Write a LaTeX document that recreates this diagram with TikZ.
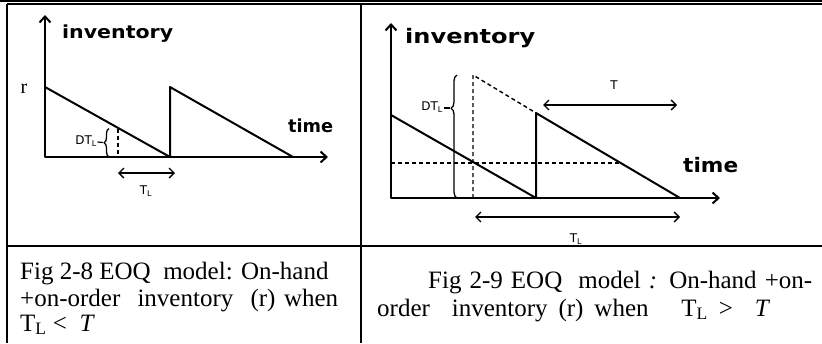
\documentclass[tikz,border=0pt]{standalone}
\usepackage{fontspec}
\usepackage{graphicx}
\setmainfont{Liberation Serif}
\newfontfamily\labfont{DejaVu Sans}
\usetikzlibrary{arrows.meta,decorations.pathreplacing}
\newcommand\fitw[2]{\resizebox{#1pt}{\height}{#2}}
\newcommand\spreadw[2]{\makebox[#1pt][s]{#2}}
\begin{document}
\begin{tikzpicture}[x=1pt,y=-1pt,line join=round,
  tbl/.style={line width=1.2pt},
  axes/.style={line width=2pt,{Straight Barb[length=6pt,width=11pt]}-{Straight Barb[length=6pt,width=11pt]}},
  saw/.style={line width=2pt},
  dsh/.style={line width=1.4pt,dash pattern=on 4pt off 3pt},
  dimarrow/.style={line width=1.4pt,{Straight Barb[length=5pt,width=10pt]}-{Straight Barb[length=5pt,width=10pt]}},
  brc/.style={line width=1.3pt,decorate,decoration={brace,amplitude=5pt}},
  biglab/.style={inner sep=0pt,anchor=base west,font=\labfont\bfseries\fontsize{#1}{#1}\selectfont},
  small/.style={inner sep=0pt,font=\labfont\fontsize{12}{14}\selectfont},
  captext/.style={inner sep=0pt,anchor=base west,font=\fontsize{25}{28}\selectfont}]
\useasboundingbox (0,0) rectangle (822,343);
% table
\draw[tbl] (0,1) -- (822,1);
\draw[tbl] (7,4) -- (822,4);
\draw[tbl] (7,4) -- (7,343);
\draw[tbl] (361,4) -- (361,343);
\draw[tbl] (7,246) -- (822,246);
% ---------- left diagram ----------
\coordinate (LO) at (45,157);
\coordinate (LY) at (45,15);
\coordinate (LX) at (328,157);
\draw[axes] (LY) -- (LO) -- (LX);
\coordinate (A1) at (45,87);
\coordinate (A2) at (170,157);
\coordinate (A3) at (170,87);
\coordinate (A4) at (293,157);
\draw[saw] (A1) -- (A2) -- (A3) -- (A4);
\coordinate (LD1) at (118,128.5);
\coordinate (LD0) at (118,157);
\draw[dsh] (LD1) -- (LD0);
\coordinate (LB0) at (109,157);
\coordinate (LB1) at (109,128.5);
\draw[brc] (LB0) -- (LB1);
\coordinate (LBt) at (103,142.5);
\node[small,anchor=east] (LDT) at (97,141) {DT\textsubscript{L}};
\draw[line width=1.2pt] (LDT.east) ++(0.5,1) -- (LBt);
\coordinate (LT0) at (118,173);
\coordinate (LT1) at (175,173);
\draw[dimarrow] (LT0) -- (LT1);
\node[small] (LTL) at (146,191) {T\textsubscript{L}};
\node[inner sep=0pt,font=\fontsize{20}{20}\selectfont] (Lr) at (24,89) {r};
\node[biglab=18] (Linv) at (62,38) {\fitw{111}{inventory}};
\node[biglab=18] (Ltime) at (288,132) {\fitw{45}{time}};
% ---------- right diagram ----------
\coordinate (RO) at (391,198);
\coordinate (RY) at (391,23);
\coordinate (RX) at (720,198);
\draw[axes] (RY) -- (RO) -- (RX);
\coordinate (B1) at (391,115);
\coordinate (B2) at (536,198);
\coordinate (B3) at (536,113);
\coordinate (B4) at (680,198);
\draw[saw] (B1) -- (B2) -- (B3) -- (B4);
\coordinate (BD) at (473,75);
\coordinate (BD0) at (473,198);
\draw[dsh] (BD0) -- (BD) -- (B3);
\coordinate (BH0) at (391,163);
\coordinate (BH1) at (620,163);
\draw[dsh] (BH0) -- (BH1);
\coordinate (RB0) at (457,198);
\coordinate (RB1) at (457,75);
\draw[brc,decoration={brace,amplitude=6pt,aspect=0.73}] (RB0) -- (RB1);
\coordinate (RBt) at (450,108);
\node[small,anchor=east] (RDT) at (443,107) {DT\textsubscript{L}};
\draw[line width=1.2pt] (RDT.east) ++(0.5,1) -- (RBt);
\coordinate (RT0) at (543,105);
\coordinate (RT1) at (677,105);
\draw[dimarrow] (RT0) -- (RT1);
\node[small] (RTT) at (614,85) {T};
\coordinate (RL0) at (475,217);
\coordinate (RL1) at (680,217);
\draw[dimarrow] (RL0) -- (RL1);
\node[small] (RTL) at (576,239) {T\textsubscript{L}};
\node[biglab=20] (Rinv) at (405,43) {\fitw{130}{inventory}};
\node[biglab=20] (Rtime) at (683,172) {\fitw{55}{time}};
% ---------- captions ----------
\node[captext] (c1a) at (20,279) {Fig 2-8 EOQ\ \ model: On-hand};
\node[captext] (c1b) at (20,306) {\spreadw{318}{+on-order\ \ inventory\ \ (r) when}};
\node[captext] (c1c) at (20,331) {T\textsubscript{L} <\ \ \textit{T}};
\node[captext] (c2a) at (428,288) {\spreadw{384}{Fig 2-9 EOQ\ \ model \textit{:} On-hand +on-}};
\node[captext] (c2b) at (377,316) {\spreadw{393}{order\ \ inventory (r) when\ \ \ T\textsubscript{L} >\ \ \textit{T}}};
\end{tikzpicture}
\end{document}
